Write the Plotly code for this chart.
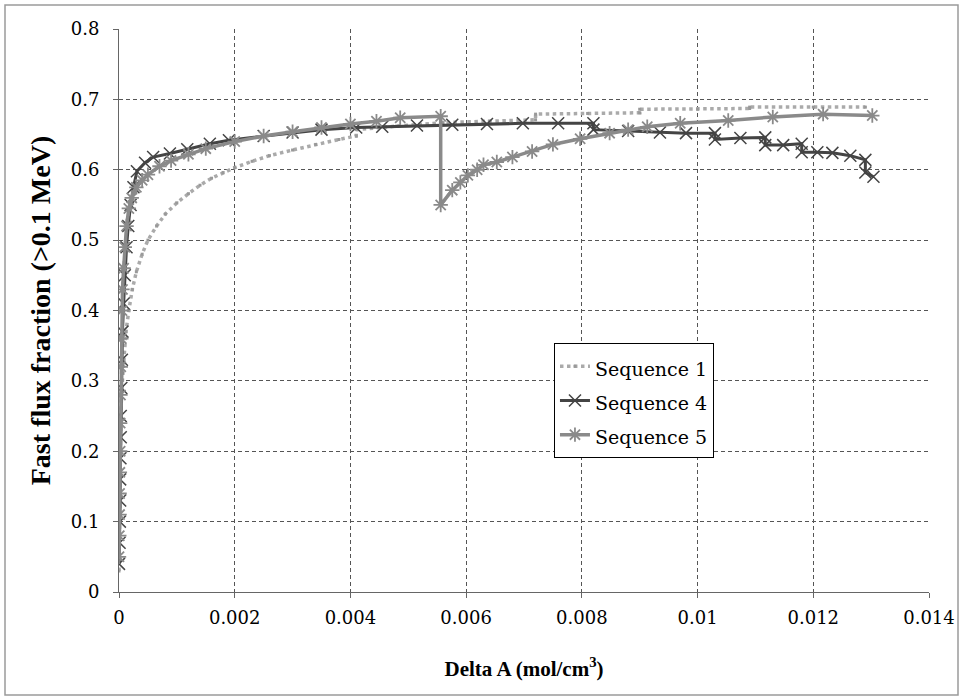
import plotly.graph_objects as go

# ---- data ----
seq1_x = [0.0, 0.000005, 0.00001, 0.00002, 0.00003, 0.00005, 0.00008, 0.00012, 0.00017, 0.00023, 0.0003,
          0.0004, 0.0005, 0.00065, 0.0008, 0.001, 0.0012, 0.0014, 0.0016, 0.0018, 0.002, 0.0023, 0.0026,
          0.003, 0.0034, 0.0038, 0.0041, 0.0041, 0.0048, 0.0056, 0.0064, 0.0072, 0.0072, 0.0081, 0.009,
          0.009, 0.01, 0.0109, 0.0109, 0.012, 0.0129]
seq1_y = [0.03, 0.08, 0.14, 0.2, 0.25, 0.29, 0.33, 0.37, 0.40, 0.43, 0.455,
          0.48, 0.50, 0.52, 0.537, 0.553, 0.566, 0.578, 0.588, 0.596, 0.603, 0.612, 0.62,
          0.628, 0.636, 0.643, 0.648, 0.657, 0.662, 0.667, 0.669, 0.671, 0.679, 0.680, 0.681,
          0.686, 0.686, 0.687, 0.689, 0.689, 0.689]

seq4_x = [0.0, 0.00001, 0.000015, 0.00002, 0.00002, 0.000025, 0.00003, 0.00003, 0.00004, 0.00005,
          0.00006, 0.00008, 0.0001, 0.00013, 0.00016, 0.0002, 0.00025, 0.00031, 0.00045, 0.00059,
          0.00088, 0.00118, 0.00157, 0.0019, 0.0025, 0.003, 0.0035, 0.0041, 0.00455, 0.00515,
          0.00576, 0.00636, 0.00698, 0.00759, 0.0082, 0.0082, 0.0088, 0.00935, 0.0098, 0.0103,
          0.0103, 0.01074, 0.01117, 0.01117, 0.01148, 0.0118, 0.0118, 0.01207, 0.01233, 0.01264,
          0.0129, 0.0129, 0.01304]
seq4_y = [0.04, 0.07, 0.1, 0.13, 0.16, 0.19, 0.22, 0.25, 0.29, 0.33,
          0.37, 0.41, 0.45, 0.49, 0.52, 0.55, 0.575, 0.598, 0.61, 0.618,
          0.623, 0.629, 0.637, 0.642, 0.648, 0.653, 0.657, 0.66, 0.661, 0.663,
          0.664, 0.665, 0.666, 0.666, 0.666, 0.657, 0.655, 0.653, 0.652, 0.652,
          0.643, 0.645, 0.646, 0.635, 0.635, 0.637, 0.625, 0.625, 0.624, 0.62,
          0.614, 0.596, 0.59]

seq5_x = [0.0, 0.000005, 0.00001, 0.00001, 0.000015, 0.00002, 0.00002, 0.000025, 0.00003, 0.00004,
          0.00005, 0.00006, 0.00008, 0.0001, 0.00013, 0.00017, 0.00022, 0.0003, 0.0004, 0.0005,
          0.0007, 0.0009, 0.0012, 0.0015, 0.002, 0.0025, 0.003, 0.0035, 0.004, 0.00445, 0.00486,
          0.00556, 0.00556, 0.00576, 0.0059, 0.00603, 0.00619, 0.0063, 0.00653, 0.0068, 0.00714,
          0.0075, 0.00797, 0.00848, 0.0088, 0.00913, 0.0097, 0.01053, 0.0113, 0.01217, 0.01302]
seq5_y = [0.05, 0.08, 0.11, 0.14, 0.17, 0.2, 0.24, 0.28, 0.32, 0.36,
          0.40, 0.43, 0.46, 0.49, 0.52, 0.545, 0.56, 0.575, 0.585, 0.593,
          0.605, 0.613, 0.622, 0.63, 0.64, 0.648, 0.654, 0.66, 0.665, 0.669, 0.674,
          0.676, 0.55, 0.571, 0.582, 0.592, 0.6, 0.607, 0.611, 0.618, 0.626,
          0.636, 0.644, 0.652, 0.657, 0.661, 0.666, 0.67, 0.675, 0.679, 0.677]

series_names = ["Sequence 1", "Sequence 4", "Sequence 5"]

x_ticks = [0, 0.002, 0.004, 0.006, 0.008, 0.01, 0.012, 0.014]
x_tick_labels = ["0", "0.002", "0.004", "0.006", "0.008", "0.01", "0.012", "0.014"]
y_ticks = [0, 0.1, 0.2, 0.3, 0.4, 0.5, 0.6, 0.7, 0.8]
y_tick_labels = ["0", "0.1", "0.2", "0.3", "0.4", "0.5", "0.6", "0.7", "0.8"]

SERIF = "DejaVu Serif"
TSERIF = "Liberation Serif"


def leg(name):
    return "<span style='font-size:19px'>" + name + "</span>"


fig = go.Figure()
fig.add_trace(go.Scatter(
    x=seq1_x, y=seq1_y, name=leg(series_names[0]), mode="lines+markers",
    line=dict(color="#aaaaaa", width=3.5, dash="dot"),
    marker=dict(symbol="square", size=3, color="#999999"),
))
fig.add_trace(go.Scatter(
    x=seq4_x, y=seq4_y, name=leg(series_names[1]), mode="lines+markers",
    line=dict(color="#444444", width=3),
    marker=dict(symbol="x-thin-open", size=12, line=dict(color="#333333", width=1.5)),
))
fig.add_trace(go.Scatter(
    x=seq5_x, y=seq5_y, name=leg(series_names[2]), mode="lines+markers",
    line=dict(color="#8a8a8a", width=3.5),
    marker=dict(symbol="asterisk-open", size=12, line=dict(color="#777777", width=1.8)),
))

fig.update_layout(
    width=963, height=700,
    margin=dict(l=119, r=34, t=29, b=108, autoexpand=False),
    paper_bgcolor="white", plot_bgcolor="white",
    font=dict(family=SERIF, color="black", size=18),
    showlegend=True,
    legend=dict(
        x=0.537, y=0.442, xanchor="left", yanchor="top",
        bordercolor="black", borderwidth=1, bgcolor="white",
        font=dict(family=SERIF, size=24, color="black"),
        tracegroupgap=0, itemwidth=30,
    ),
    xaxis=dict(
        range=[0, 0.014], tickmode="array", tickvals=x_ticks, ticktext=x_tick_labels,
        showgrid=True, gridcolor="#555555", gridwidth=1, griddash="4px,3px",
        showline=True, linecolor="#666666", linewidth=1,
        ticks="outside", ticklen=5, tickcolor="#666666",
        zeroline=False, ticklabelstandoff=4, automargin=False,
        tickfont=dict(family=SERIF, size=18),
        title=dict(text="<b>Delta A (mol/cm<sup>3</sup>)</b>", font=dict(family=TSERIF, size=21), standoff=34),
    ),
    yaxis=dict(
        range=[0, 0.8], tickmode="array", tickvals=y_ticks, ticktext=y_tick_labels,
        showgrid=True, gridcolor="#555555", gridwidth=1, griddash="4px,3px",
        showline=True, linecolor="#666666", linewidth=1,
        ticks="outside", ticklen=5, tickcolor="#666666",
        zeroline=False, ticklabelstandoff=10, automargin=False,
        tickfont=dict(family=SERIF, size=18),
        title=dict(text="<b>Fast flux fraction (>0.1 MeV)</b>", font=dict(family=TSERIF, size=28), standoff=11),
    ),
    shapes=[
        dict(type="rect", xref="paper", yref="paper",
             x0=-114 / 810, x1=1 + 29 / 810, y0=-103 / 563, y1=1 + 24 / 563,
             line=dict(color="#9a9a9a", width=1.5), fillcolor="rgba(0,0,0,0)", layer="below"),
    ],
)

fig.write_html("out.html")
